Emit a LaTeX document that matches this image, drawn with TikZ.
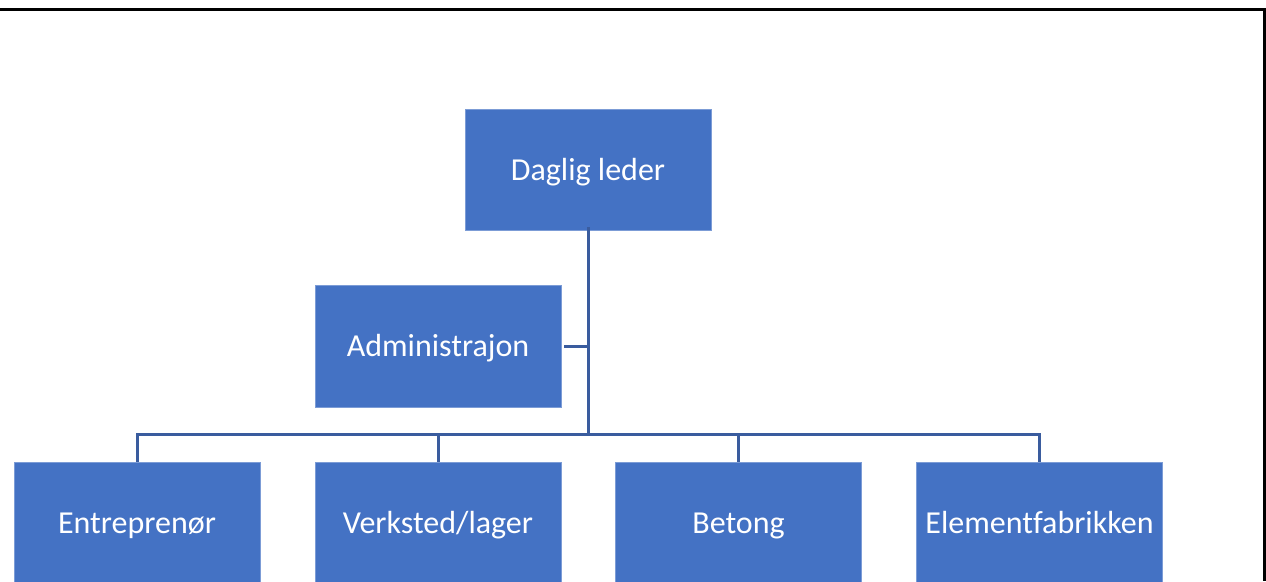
\documentclass[tikz,border=0pt]{standalone}
\usepackage{fontspec}
\setmainfont{Carlito}[Ligatures=NoCommon]
\definecolor{boxblue}{HTML}{4472C4}
\definecolor{lineblue}{HTML}{3A5C9E}
\begin{document}
\begin{tikzpicture}[x=1pt,y=-1pt,
  orgbox/.style={rectangle, fill=boxblue, draw=boxblue!70!white, line width=0.6pt,
    minimum width=246pt, minimum height=121pt, inner sep=0pt,
    text height=25pt, text depth=4pt,
    text=white, font=\fontsize{32}{38}\selectfont},
  conn/.style={draw=lineblue, line width=3pt}]
\useasboundingbox (0,0) rectangle (1266,581);
\begin{scope}
\clip (0,0) rectangle (1266,581);
\node[orgbox] (top) at (588,169.5) {Daglig leder};
\node[orgbox, minimum height=122pt] (admin) at (438,346) {Administrajon};
\node[orgbox] (c1) at (137,522.5) {Entreprenør};
\node[orgbox] (c2) at (438,522.5) {Verksted/lager};
\node[orgbox] (c3) at (738.5,522.5) {Betong};
\node[orgbox] (c4) at (1039.5,522.5) {Elementfabrikken};
\coordinate (bus) at (588,434);
\draw[conn] ([yshift=3pt]top.south) -- (bus);
\draw[conn] ([xshift=3pt]admin.east) -- (admin.east -| top.south);
\foreach \c in {c1,c2,c3,c4}{
  \draw[conn] (bus) -| (\c.north);
}
\draw[line width=3pt, black] (0,9) -- (1264.5,9) -- (1264.5,581);
\end{scope}
\end{tikzpicture}
\end{document}
